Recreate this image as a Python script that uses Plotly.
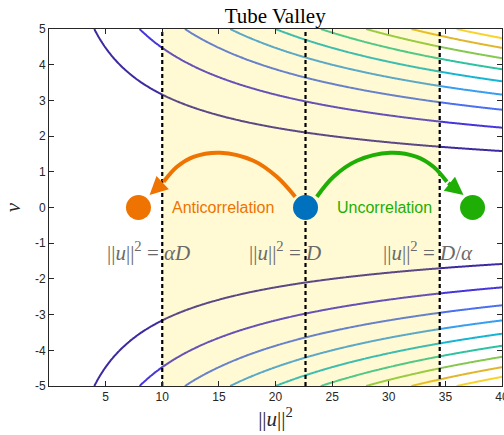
import numpy as np
import plotly.graph_objects as go

# ---------------- data ----------------
x_grid = np.linspace(0, 40, 401)          # ||u||^2
v_grid = np.linspace(-5, 5, 201)          # v
contour_levels = [100, 200, 300, 400, 500, 600, 700, 800, 900]
level_colors = ["#3b2aa0", "#4535db", "#4a6ff2", "#3a9ef0", "#16b6d2",
                "#2ec3a0", "#86c84e", "#e2b62c", "#f9d428"]

region_x = [10.0, 34.5]                   # alpha*D .. D/alpha
vline_x = [10.0, 22.65, 34.5]
NORM = "||<i>u</i>||<sup>2</sup>"
vline_labels = [NORM + " = <i>αD</i>",
                NORM + " = <i>D</i>",
                NORM + " = <i>D</i>/<i>α</i>"]
vline_label_x = [8.8, 20.8, 33.5]
vline_label_y = [-1.22, -1.22, -1.22]

point_x = [7.9, 22.65, 37.4]
point_y = [0, 0, 0]
point_colors = ["#ef7300", "#0072bd", "#1fae05"]

anti_x = [21.74, 20.12, 18.06, 15.12, 12.76, 11.30, 10.12]
anti_y = [0.30, 0.86, 1.31, 1.535, 1.42, 1.14, 0.72]
anti_tip = (8.88, 0.35)
unc_x = [23.65, 25.12, 27.18, 30.12, 32.48, 33.95, 35.13]
unc_y = [0.30, 0.86, 1.31, 1.535, 1.42, 1.14, 0.72]
unc_tip = (36.6, 0.35)

arrow_texts = ["Anticorrelation", "Uncorrelation"]
arrow_text_x = [15.35, 29.6]
arrow_text_y = [0, 0]

xtick_vals = [5, 10, 15, 20, 25, 30, 35, 40]
xtick_text = ["5", "10", "15", "20", "25", "30", "35", "40"]
ytick_vals = [-5, -4, -3, -2, -1, 0, 1, 2, 3, 4, 5]
ytick_text = ["-5", "-4", "-3", "-2", "-1", "0", "1", "2", "3", "4", "5"]

# --------------- figure ---------------
X, V = np.meshgrid(x_grid, v_grid)
Z = X * V ** 2

n = len(level_colors)
cscale = [[i / (n - 1), c] for i, c in enumerate(level_colors)]

fig = go.Figure()
fig.add_trace(go.Contour(
    x=x_grid, y=v_grid, z=Z,
    autocontour=False,
    contours=dict(start=contour_levels[0], end=contour_levels[-1],
                  size=contour_levels[1] - contour_levels[0],
                  coloring="lines", showlabels=False),
    zauto=False, zmin=contour_levels[0], zmax=contour_levels[-1],
    colorscale=cscale, showscale=False,
    line=dict(width=2), hoverinfo="skip"))

# shaded region
fig.add_trace(go.Scatter(
    x=[region_x[0], region_x[1], region_x[1], region_x[0], region_x[0]],
    y=[-5, -5, 5, 5, -5], mode="lines", fill="toself",
    fillcolor="rgba(255,226,0,0.17)", line=dict(width=0),
    hoverinfo="skip", showlegend=False))

# dotted vertical lines
for xv in vline_x:
    fig.add_trace(go.Scatter(x=[xv, xv], y=[-5, 5], mode="lines",
                             line=dict(color="black", width=2.2, dash="4px,3px"),
                             hoverinfo="skip", showlegend=False))

# arcs
fig.add_trace(go.Scatter(x=anti_x, y=anti_y, mode="lines",
                         line=dict(color=point_colors[0], width=4, shape="spline"),
                         hoverinfo="skip", showlegend=False))
fig.add_trace(go.Scatter(x=unc_x, y=unc_y, mode="lines",
                         line=dict(color=point_colors[2], width=4, shape="spline"),
                         hoverinfo="skip", showlegend=False))

# points
fig.add_trace(go.Scatter(x=point_x, y=point_y, mode="markers",
                         marker=dict(size=25, color=point_colors, line=dict(width=0)),
                         hoverinfo="skip", showlegend=False))

# arrowheads
for (tx, ty), bx, by, col in [(anti_tip, anti_x[-1], anti_y[-1], point_colors[0]),
                              (unc_tip, unc_x[-1], unc_y[-1], point_colors[2])]:
    fig.add_annotation(x=tx, y=ty, ax=bx, ay=by, xref="x", yref="y",
                       axref="x", ayref="y", text="", showarrow=True,
                       arrowhead=2, arrowsize=0.9, arrowwidth=4,
                       arrowcolor=col, standoff=0, startstandoff=0)

# arrow texts
for t, tx, ty, col in zip(arrow_texts, arrow_text_x, arrow_text_y,
                          [point_colors[0], point_colors[2]]):
    fig.add_annotation(x=tx, y=ty, text=t, showarrow=False,
                       font=dict(family="Liberation Sans", size=16, color=col))

# line labels
for t, tx, ty in zip(vline_labels, vline_label_x, vline_label_y):
    fig.add_annotation(x=tx, y=ty, text=t, showarrow=False,
                       font=dict(family="Liberation Serif", size=21, color="#6a6a6a"))

axis_common = dict(showline=True, linecolor="#262626", linewidth=1, mirror="ticks",
                   ticks="inside", ticklen=5, tickwidth=1, tickcolor="#262626",
                   showgrid=False, zeroline=False, automargin=False,
                   ticklabeloverflow="allow",
                   tickfont=dict(family="Liberation Sans", size=12, color="#262626"))

fig.update_xaxes(range=[0, 40], tickvals=xtick_vals, ticktext=xtick_text,
                 title=dict(text=NORM, standoff=4,
                            font=dict(family="Liberation Serif", size=21, color="#262626")),
                 **axis_common)
fig.update_yaxes(range=[-5, 5], tickvals=ytick_vals, ticktext=ytick_text,
                 title=dict(text="<i>v</i>", standoff=8,
                            font=dict(family="Liberation Serif", size=21, color="#262626")),
                 **axis_common)

fig.update_layout(
    width=504, height=435, template="none",
    margin=dict(l=49, r=2, t=29, b=49),
    paper_bgcolor="white", plot_bgcolor="white",
    showlegend=False,
    title=dict(text="Tube Valley", x=0.546, xanchor="center", y=0.965, yanchor="middle",
               font=dict(family="Liberation Serif", size=21, color="black")),
)

fig.write_html("out.html", config={"displayModeBar": False},
               post_script="document.body.style.margin='0';document.body.style.padding='0';")
